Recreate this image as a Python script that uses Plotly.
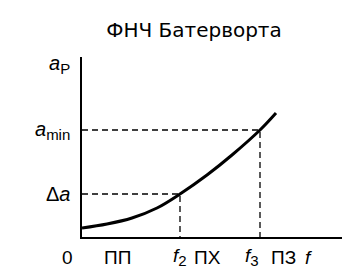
import plotly.graph_objects as go

# data (units: arbitrary, frequency axis 0..260, attenuation axis 0..180)
curve_f = [0, 25, 50, 75, 98, 125, 150, 178, 194]
curve_a = [9, 13, 19, 29, 43, 62, 82, 107, 124]
f2 = 98
f3 = 178
delta_a = 43
a_min = 107
SUB = "<sub><span style='font-size:15px'>{}</span></sub>"
x_labels = ["0", "ПП", "<i>f</i>" + SUB.format("2"), "ПХ", "<i>f</i>" + SUB.format("3"), "ПЗ", "<i>f</i>"]
x_label_pos = [-15, 35, 98, 125, 170, 201, 226]
y_labels = ["<i>a</i>" + SUB.format("P"), "<i>a</i>" + SUB.format("min"), "Δ<i>a</i>"]
y_label_pos = [172, a_min, delta_a]

FONT = "Liberation Sans, Arial, sans-serif"
XR = 260.0
YR = 180.0

fig = go.Figure()
fig.add_trace(go.Scatter(x=curve_f, y=curve_a, mode="lines",
                         line=dict(color="black", width=3, shape="spline"),
                         hoverinfo="skip", showlegend=False))
# dashed guides
fig.add_trace(go.Scatter(x=[0, f2, f2], y=[delta_a, delta_a, 0], mode="lines",
                         line=dict(color="black", width=1.3, dash="6px,4px"),
                         hoverinfo="skip", showlegend=False))
fig.add_trace(go.Scatter(x=[0, f3, f3], y=[a_min, a_min, 0], mode="lines",
                         line=dict(color="black", width=1.3, dash="6px,4px"),
                         hoverinfo="skip", showlegend=False))

annotations = []
for t, xp in zip(x_labels, x_label_pos):
    annotations.append(dict(x=xp / XR, y=-20 / YR, xref="paper", yref="paper",
                            xanchor="center", yanchor="middle",
                            text=t, showarrow=False,
                            font=dict(family=FONT, size=19, color="black")))
for t, yp in zip(y_labels, y_label_pos):
    annotations.append(dict(x=-10 / XR, y=yp / YR, xref="paper", yref="paper",
                            xanchor="right", yanchor="middle",
                            text=t, showarrow=False,
                            font=dict(family=FONT, size=20, color="black")))

fig.update_layout(
    width=344, height=273,
    margin=dict(l=82, r=2, t=57, b=36),
    paper_bgcolor="white", plot_bgcolor="white",
    title=dict(text="ФНЧ Батерворта", x=194 / 344, xanchor="center",
               y=1 - 30 / 273, yanchor="middle",
               font=dict(family="DejaVu Sans, sans-serif", size=20, color="black")),
    xaxis=dict(range=[0, XR], showgrid=False, zeroline=False, showticklabels=False,
               ticks="", showline=True, linecolor="black", linewidth=2),
    yaxis=dict(range=[0, YR], showgrid=False, zeroline=False, showticklabels=False,
               ticks="", showline=True, linecolor="black", linewidth=2),
    annotations=annotations,
)

fig.write_html("out.html")
